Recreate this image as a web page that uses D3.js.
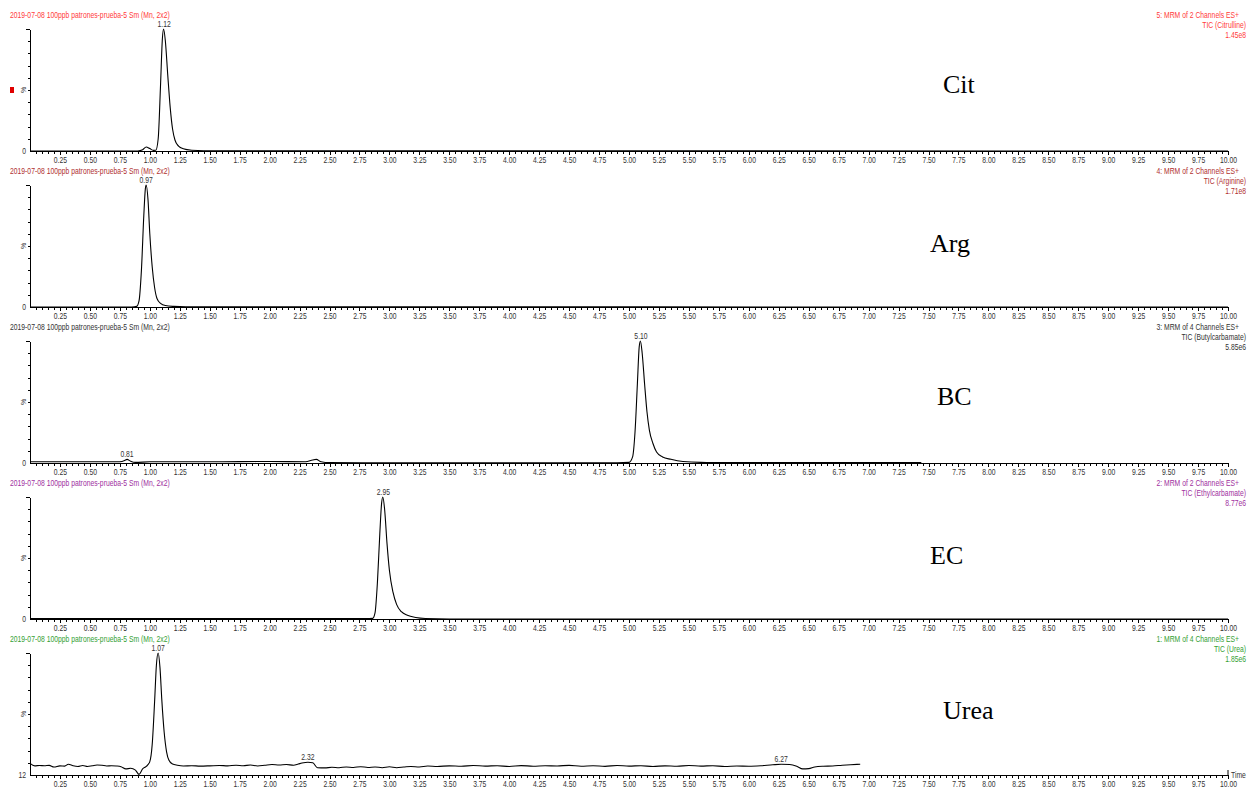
<!DOCTYPE html>
<html>
<head>
<meta charset="utf-8">
<script src="https://cdn.jsdelivr.net/npm/d3@7"></script>
<style>
  body { margin: 0; background: #fff; }
  svg { display: block; font-family: "Liberation Sans", Arial, sans-serif; }
  .axis path, .axis line { stroke: #000; stroke-width: 1; shape-rendering: crispEdges; }
  .axis text { font-size: 8.5px; fill: #333; }
</style>
</head>
<body>
<div id="chart"></div>
<script>
var sampleTitle = "2019-07-08 100ppb patrones-prueba-5 Sm (Mn, 2x2)";
var compounds = ["Cit", "Arg", "BC", "EC", "Urea"];
var channelLines = [
    "5: MRM of 2 Channels ES+",
    "4: MRM of 2 Channels ES+",
    "3: MRM of 4 Channels ES+",
    "2: MRM of 2 Channels ES+",
    "1: MRM of 4 Channels ES+"
];
var ticLines = ["TIC (Citrulline)", "TIC (Arginine)", "TIC (Butylcarbamate)", "TIC (Ethylcarbamate)", "TIC (Urea)"];
var intensityMax = ["1.45e8", "1.71e8", "5.85e6", "8.77e6", "1.85e6"];
var yMinLabels = ["0", "0", "0", "0", "12"];
var headerColors = ["#ff3b3b", "#b03030", "#333333", "#a030a0", "#33a033"];

// [time (min), relative intensity %]
var citSeries = [[0, 0], [0.90, 0], [0.94, 1], [0.97, 3.3], [1.00, 2], [1.03, 0.5], [1.05, 0.6],
    [1.07, 10], [1.09, 55], [1.105, 92], [1.115, 100], [1.13, 90], [1.15, 62], [1.17, 36],
    [1.19, 18], [1.21, 9], [1.24, 4], [1.28, 1.8], [1.35, 0.6], [1.45, 0.2], [10, 0]];

var argSeries = [[0, 0], [0.85, 0], [0.89, 0.5], [0.91, 5], [0.93, 30], [0.95, 75], [0.963, 97],
    [0.97, 100], [0.985, 88], [1.0, 60], [1.02, 33], [1.04, 16], [1.06, 7], [1.09, 3],
    [1.13, 1.2], [1.2, 0.5], [1.3, 0.2], [10, 0]];

var bcSeries = [[0, 1], [0.5, 1], [0.75, 1], [0.79, 2], [0.81, 3], [0.84, 1.5], [0.88, 0.5],
    [1.0, 1], [1.5, 1], [2.0, 1.2], [2.3, 1], [2.36, 2.5], [2.39, 3], [2.43, 1], [2.5, 0.3],
    [3.0, 0.2], [4.9, 0.2], [5.0, 0.5], [5.03, 5], [5.05, 25], [5.07, 65], [5.085, 95],
    [5.095, 100], [5.11, 90], [5.13, 65], [5.15, 42], [5.17, 27], [5.20, 16], [5.23, 9],
    [5.28, 5], [5.35, 3], [5.45, 1.2], [5.6, 0.5], [6.0, 0.3], [7.44, 0.3]];

var ecSeries = [[0, 0.3], [2.8, 0.3], [2.86, 0.5], [2.88, 5], [2.90, 30], [2.92, 70], [2.935, 95],
    [2.945, 100], [2.96, 90], [2.98, 62], [3.0, 40], [3.03, 22], [3.06, 12], [3.10, 6],
    [3.15, 3], [3.22, 1.2], [3.3, 0.4], [3.5, 0], [10, 0]];

var ureaSeries = [[0.00, 9.5], [0.04, 7.5], [0.08, 7.8], [0.12, 7.6], [0.16, 7.9], [0.20, 6.5],
    [0.25, 7.5], [0.29, 7.3], [0.32, 8.8], [0.36, 7.6], [0.40, 7.0], [0.44, 7.8], [0.48, 7.0],
    [0.52, 7.6], [0.56, 8.2], [0.60, 8.0], [0.64, 7.4], [0.68, 7.6], [0.72, 7.4], [0.76, 6.8],
    [0.80, 5.0], [0.84, 5.5], [0.88, 4.0], [0.91, 0.5], [0.94, 5.0], [0.97, 7.0], [1.00, 11],
    [1.02, 25], [1.04, 60], [1.055, 90], [1.07, 100], [1.085, 88], [1.10, 62], [1.12, 35],
    [1.14, 19], [1.16, 12], [1.19, 9], [1.23, 8], [1.28, 7.4], [1.35, 7.6], [1.42, 7.3],
    [1.50, 7.5], [1.58, 7.8], [1.65, 7.5], [1.72, 8.0], [1.78, 7.6], [1.84, 8.2], [1.90, 7.4],
    [1.96, 8.0], [2.02, 8.6], [2.08, 8.2], [2.14, 8.6], [2.20, 8.0], [2.24, 9.0], [2.27, 9.8],
    [2.32, 10.5], [2.36, 10.0], [2.40, 6.0], [2.46, 5.8], [2.52, 6.3], [2.58, 6.0], [2.64, 6.6],
    [2.70, 6.2], [2.76, 6.8], [2.82, 6.2], [2.88, 6.6], [2.94, 6.0], [3.00, 6.8], [3.06, 6.0],
    [3.12, 6.5], [3.18, 7.0], [3.25, 6.6], [3.32, 7.4], [3.4, 7.0], [3.5, 7.5], [3.6, 7.2],
    [3.7, 7.8], [3.8, 7.3], [3.9, 7.6], [4.0, 7.0], [4.1, 7.7], [4.2, 7.2], [4.3, 7.6],
    [4.4, 7.4], [4.5, 7.9], [4.6, 7.2], [4.7, 7.6], [4.8, 7.1], [4.9, 7.8], [5.0, 7.3],
    [5.1, 7.6], [5.2, 7.0], [5.3, 7.5], [5.4, 7.2], [5.5, 7.8], [5.6, 7.3], [5.7, 7.6],
    [5.8, 7.0], [5.9, 7.4], [6.0, 7.2], [6.1, 7.6], [6.2, 8.4], [6.27, 8.8], [6.34, 8.6],
    [6.40, 7.2], [6.45, 5.0], [6.50, 5.2], [6.55, 6.6], [6.62, 7.2], [6.70, 7.4], [6.78, 8.0],
    [6.85, 8.4], [6.93, 8.8]];

var allSeries = [citSeries, argSeries, bcSeries, ecSeries, ureaSeries];
var peakLabels = [[1.12], [0.97], [0.81, 5.10], [2.95], [1.07, 2.32, 6.27]];

function init() {
    var w = 1255, h = 794;
    var plotLeft = 30, plotRight = 1228;
    var step = 156, top0 = 29, base0 = 151;
    var nameX = [943, 930, 937, 930, 943];
    var nameY = [93, 252, 405, 564, 719];

    var svg = d3.select("#chart").append("svg")
        .attr("width", w)
        .attr("height", h);

    var x = d3.scaleLinear().domain([0, 10]).range([plotLeft, plotRight]);
    var majors = d3.range(1, 41).map(function(i) { return i * 0.25; });
    var minors = d3.range(1, 201).map(function(i) { return i * 0.05; });

    function narrow(sel, tx, ty) {
        return sel.attr("transform", "translate(" + tx + "," + ty + ") scale(0.8,1)");
    }

    allSeries.forEach(function(series, i) {
        var top = top0 + step * i, base = base0 + step * i;
        var y = d3.scaleLinear().domain([0, 100]).range([base, top]);
        var g = svg.append("g");

        // header
        narrow(g.append("text"), 10, 18 + step * i)
            .attr("fill", headerColors[i]).style("font-size", "8.5px").text(sampleTitle);
        [channelLines[i], ticLines[i], intensityMax[i]].forEach(function(t, k) {
            narrow(g.append("text"), k === 0 ? 1239 : 1246, 18 + step * i + k * 9.8)
                .attr("fill", headerColors[i]).attr("text-anchor", "end")
                .style("font-size", "8.5px").text(t);
        });

        // axes
        g.append("g").attr("class", "axis")
            .attr("transform", "translate(0," + base + ")")
            .call(d3.axisBottom(x).tickValues(minors).tickSize(2.5).tickSizeOuter(0).tickFormat(""));
        var xa = g.append("g").attr("class", "axis")
            .attr("transform", "translate(0," + base + ")")
            .call(d3.axisBottom(x).tickValues(majors).tickSize(4).tickSizeOuter(0)
                .tickPadding(2).tickFormat(d3.format(".2f")));
        xa.selectAll("text").attr("transform", "scale(0.8,1)");

        g.append("g").attr("class", "axis")
            .attr("transform", "translate(" + plotLeft + ",0)")
            .call(d3.axisLeft(y).tickValues(d3.range(10, 100, 10)).tickSize(2).tickSizeOuter(0).tickFormat(""));
        g.append("g").attr("class", "axis")
            .attr("transform", "translate(" + plotLeft + ",0)")
            .call(d3.axisLeft(y).tickValues([100]).tickSize(4).tickSizeOuter(0).tickFormat(""));

        narrow(g.append("text"), 26, base + 3).attr("text-anchor", "end")
            .attr("fill", "#333").style("font-size", "8.5px").text(yMinLabels[i]);
        g.append("text")
            .attr("transform", "translate(26," + y(50) + ") rotate(-90)")
            .attr("text-anchor", "middle").attr("fill", "#333")
            .style("font-size", "7px").text("%");

        // trace
        var line = d3.line()
            .x(function(d) { return x(d[0]); })
            .y(function(d) { return y(d[1]); })
            .curve(d3.curveMonotoneX);
        g.append("path").datum(series)
            .attr("d", line)
            .attr("fill", "none")
            .attr("stroke", "#000")
            .attr("stroke-width", 1.1);

        // peak retention time labels
        peakLabels[i].forEach(function(rt) {
            var near = series.filter(function(d) { return Math.abs(d[0] - rt) < 0.06; });
            var peak = d3.max(near, function(d) { return d[1]; });
            narrow(g.append("text"), x(rt), y(peak) - 2)
                .attr("text-anchor", "middle").attr("fill", "#333")
                .style("font-size", "8.5px").text(rt.toFixed(2));
        });

        g.append("text")
            .attr("x", nameX[i]).attr("y", nameY[i])
            .style("font-family", "'Liberation Serif', 'Times New Roman', serif")
            .style("font-size", "26px").attr("fill", "#000")
            .text(compounds[i]);

        if (i === 0) {
            g.append("rect").attr("x", 10).attr("y", 87).attr("width", 4).attr("height", 6).attr("fill", "#e00000");
        }
        if (i === allSeries.length - 1) {
            g.append("line").attr("x1", x(10)).attr("x2", x(10))
                .attr("y1", base).attr("y2", base - 5).attr("stroke", "#000");
            narrow(g.append("text"), 1231, base + 3).attr("fill", "#333")
                .style("font-size", "8.5px").text("Time");
        }
    });
}

window.onload = init;
</script>
</body>
</html>
